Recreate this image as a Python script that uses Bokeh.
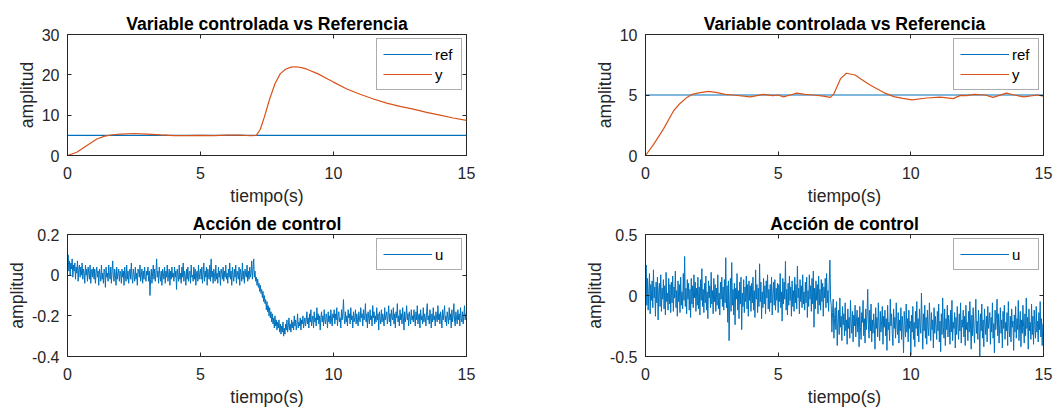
from bokeh.plotting import figure
from bokeh.layouts import column, row
from bokeh.models import Range1d, FixedTicker, LinearAxis
from bokeh.embed import file_html
from bokeh.resources import INLINE

# ---------------- data ----------------
x_ticks = [0, 5, 10, 15]

ref_t = [0, 15]
ref_v = [5, 5]

y1_t = [0, 0.35, 0.73, 1.1, 1.4, 1.7, 2.0, 2.5, 3.0, 3.5, 4.0, 4.5, 5.0, 5.5, 6.0, 6.5, 6.9,
        7.1, 7.25, 7.4, 7.6, 7.8, 8.0, 8.2, 8.4, 8.6, 8.8, 9.0, 9.4, 9.8, 10.0, 10.5, 11.0,
        11.5, 12.0, 12.5, 13.0, 13.5, 14.0, 14.5, 15.0]
y1_v = [0, 0.8, 2.5, 4.1, 4.8, 5.15, 5.3, 5.45, 5.3, 5.1, 4.95, 4.95, 5.0, 4.95, 5.05, 5.05, 4.9,
        5.0, 6.5, 9.5, 14.0, 17.8, 20.3, 21.4, 21.9, 22.0, 21.8, 21.4, 20.3, 18.9, 18.2, 16.5, 15.2,
        14.0, 13.0, 12.2, 11.5, 10.7, 10.0, 9.3, 8.7]

y2_t = [0, 0.3, 0.68, 1.06, 1.3, 1.56, 1.75, 2.06, 2.38, 2.7, 3.0, 3.3, 3.95, 4.45, 4.8, 5.0,
        5.2, 5.45, 5.7, 6.0, 6.34, 6.7, 6.97, 7.1, 7.35, 7.57, 7.9, 8.2, 8.48, 8.98, 9.36, 9.7,
        10.05, 10.6, 11.1, 11.6, 11.87, 12.1, 12.38, 12.8, 13.1, 13.6, 13.9, 14.26, 14.77, 15.0]
y2_v = [0, 0.9, 2.2, 3.7, 4.3, 4.8, 5.05, 5.2, 5.3, 5.2, 5.05, 5.0, 4.85, 5.05, 4.95, 5.0,
        4.85, 5.0, 5.15, 5.05, 5.0, 4.9, 4.8, 5.1, 6.35, 6.8, 6.65, 6.2, 5.8, 5.2, 4.87, 4.72,
        4.6, 4.75, 4.82, 4.7, 4.97, 4.95, 5.05, 5.0, 4.8, 5.15, 5.0, 4.85, 5.0, 4.9]

u_dt = 0.025

u1 = [
    0.05, 0.10, 0.02, 0.07, 0.00, 0.06, 0.03, 0.08, -0.01, 0.05, 0.02, 0.06, -0.02, 0.04, 0.01, 0.07, -0.03, 0.03, 0.05, -0.01,
    0.04, 0.00, 0.06, -0.02, 0.03, 0.01, -0.04, 0.05, 0.00, 0.03, -0.03, 0.04, 0.01, -0.02, 0.05, -0.04, 0.02, 0.03, -0.01, 0.04,
    -0.02, 0.03, -0.04, 0.01, 0.04, -0.01, 0.02, -0.05, 0.03, 0.00, -0.03, 0.05, -0.02, 0.01, -0.04, 0.03, 0.02, -0.06, 0.04, -0.01,
    0.01, -0.03, 0.05, 0.00, -0.02, 0.04, -0.04, 0.02, 0.07, -0.01, -0.03, 0.03, 0.00, -0.05, 0.04, -0.02, 0.01, 0.03, -0.03, 0.02,
    0.01, -0.04, 0.03, -0.01, 0.02, -0.05, 0.04, 0.00, -0.03, 0.05, -0.02, 0.02, -0.04, 0.01, 0.03, -0.02, 0.06, -0.01, -0.04, 0.03,
    0.00, -0.03, 0.04, -0.02, 0.01, -0.05, 0.03, 0.02, -0.01, 0.05, -0.03, 0.00, 0.03, -0.04, 0.02, -0.02, 0.04, -0.01, -0.03, 0.02,
    0.00, 0.04, -0.03, 0.02, -0.10, -0.02, 0.03, -0.04, 0.01, 0.05, -0.02, 0.03, -0.03, 0.01, 0.08, -0.01, 0.02, -0.04, 0.04, 0.00,
    -0.03, 0.02, -0.05, 0.03, 0.01, -0.02, 0.04, -0.04, 0.02, -0.01, 0.05, -0.03, 0.00, 0.03, -0.05, 0.02, -0.02, 0.04, -0.01, 0.01,
    -0.03, 0.04, -0.01, 0.02, -0.07, 0.03, 0.00, -0.03, 0.05, -0.02, 0.01, -0.04, 0.04, -0.01, 0.06, -0.03, 0.02, 0.00, -0.05, 0.03,
    -0.02, 0.04, -0.03, 0.01, 0.02, -0.04, 0.05, -0.01, 0.00, -0.03, 0.04, -0.02, 0.03, -0.05, 0.01, 0.02, -0.03, 0.05, -0.02, 0.01,
    0.03, -0.02, 0.04, -0.04, 0.01, 0.06, -0.03, 0.02, -0.01, 0.04, -0.05, 0.03, 0.00, -0.02, 0.05, -0.03, 0.08, -0.01, 0.02, -0.04,
    0.03, 0.00, -0.03, 0.05, -0.02, 0.01, -0.04, 0.04, -0.01, 0.02, -0.05, 0.03, 0.01, -0.02, 0.04, -0.03, 0.02, -0.01, 0.05, -0.02,
    0.01, -0.04, 0.03, -0.01, 0.06, -0.02, 0.02, -0.05, 0.04, 0.00, -0.03, 0.03, -0.01, 0.05, -0.04, 0.02, 0.00, -0.02, 0.04, -0.05,
    0.03, 0.01, -0.03, 0.06, -0.02, 0.02, -0.04, 0.03, 0.00, -0.01, 0.05, -0.03, 0.02, -0.02, 0.04, -0.01, 0.01, 0.07, -0.02, 0.03,
    0.08, -0.01, 0.02, -0.03, -0.01, -0.05, -0.02, -0.06, -0.04, -0.08, -0.05, -0.09, -0.07, -0.11, -0.08, -0.13, -0.10, -0.14, -0.12, -0.17,
    -0.13, -0.18, -0.15, -0.20, -0.16, -0.21, -0.18, -0.23, -0.19, -0.24, -0.21, -0.26, -0.20, -0.25, -0.22, -0.27, -0.23, -0.26, -0.22, -0.28,
    -0.24, -0.29, -0.25, -0.28, -0.23, -0.30, -0.26, -0.29, -0.24, -0.27, -0.22, -0.28, -0.25, -0.21, -0.27, -0.24, -0.28, -0.22, -0.26, -0.23,
    -0.27, -0.20, -0.25, -0.22, -0.27, -0.24, -0.19, -0.26, -0.23, -0.25, -0.21, -0.27, -0.22, -0.24, -0.20, -0.26, -0.23, -0.21, -0.25, -0.22,
    -0.18, -0.24, -0.21, -0.26, -0.19, -0.23, -0.17, -0.25, -0.22, -0.20, -0.26, -0.18, -0.23, -0.21, -0.25, -0.16, -0.22, -0.19, -0.24, -0.20,
    -0.27, -0.21, -0.18, -0.23, -0.20, -0.25, -0.17, -0.22, -0.24, -0.19, -0.21, -0.26, -0.18, -0.23, -0.20, -0.24, -0.17, -0.22, -0.25, -0.19,
    -0.21, -0.17, -0.24, -0.19, -0.22, -0.16, -0.25, -0.20, -0.18, -0.23, -0.21, -0.26, -0.17, -0.22, -0.19, -0.12, -0.21, -0.24, -0.18, -0.23,
    -0.20, -0.25, -0.17, -0.21, -0.19, -0.24, -0.16, -0.22, -0.20, -0.26, -0.18, -0.23, -0.21, -0.17, -0.24, -0.19, -0.22, -0.25, -0.18, -0.21,
    -0.23, -0.16, -0.21, -0.19, -0.25, -0.17, -0.22, -0.20, -0.14, -0.23, -0.19, -0.26, -0.18, -0.21, -0.24, -0.17, -0.22, -0.20, -0.25, -0.15,
    -0.21, -0.18, -0.24, -0.20, -0.23, -0.16, -0.22, -0.19, -0.27, -0.18, -0.21, -0.24, -0.17, -0.23, -0.19, -0.21, -0.25, -0.16, -0.22, -0.20,
    -0.18, -0.24, -0.20, -0.15, -0.23, -0.19, -0.25, -0.17, -0.21, -0.22, -0.16, -0.24, -0.19, -0.26, -0.18, -0.21, -0.14, -0.23, -0.20, -0.25,
    -0.17, -0.22, -0.19, -0.24, -0.16, -0.21, -0.27, -0.18, -0.23, -0.20, -0.15, -0.22, -0.19, -0.25, -0.18, -0.21, -0.24, -0.17, -0.22, -0.20,
    -0.23, -0.17, -0.21, -0.25, -0.18, -0.22, -0.15, -0.24, -0.20, -0.19, -0.26, -0.17, -0.22, -0.20, -0.24, -0.16, -0.23, -0.19, -0.21, -0.25,
    -0.18, -0.14, -0.22, -0.20, -0.24, -0.17, -0.21, -0.26, -0.19, -0.23, -0.16, -0.22, -0.20, -0.25, -0.18, -0.21, -0.23, -0.15, -0.22, -0.19,
    -0.24, -0.18, -0.21, -0.26, -0.17, -0.22, -0.19, -0.15, -0.23, -0.20, -0.25, -0.18, -0.21, -0.24, -0.16, -0.22, -0.19, -0.26, -0.17, -0.23,
    -0.20, -0.14, -0.22, -0.25, -0.18, -0.21, -0.24, -0.17, -0.22, -0.19, -0.25, -0.16, -0.21, -0.23, -0.18, -0.24, -0.20, -0.15, -0.22, -0.19,
    -0.21,
]

u2 = [
    0.05, 0.25, -0.08, 0.14, -0.12, 0.03, 0.18, -0.15, 0.09, -0.04, 0.12, -0.10, 0.21, -0.02, 0.07, -0.17, 0.11, -0.06, 0.15, -0.20,
    0.04, 0.10, -0.09, 0.17, -0.13, 0.06, -0.03, 0.13, -0.11, 0.08, -0.16, 0.19, -0.05, 0.02, -0.12, 0.14, -0.07, 0.09, -0.14, 0.11,
    -0.06, 0.16, -0.13, 0.07, -0.02, 0.20, -0.10, 0.04, -0.17, 0.12, -0.05, 0.09, -0.14, 0.15, -0.08, 0.03, -0.11, 0.18, -0.04, 0.32,
    -0.09, 0.06, -0.15, 0.13, -0.03, 0.10, -0.12, 0.05, -0.18, 0.14, -0.07, 0.08, -0.10, 0.17, -0.02, 0.11, -0.13, 0.06, -0.08, 0.15,
    -0.11, 0.07, -0.16, 0.13, -0.04, 0.22, -0.09, 0.05, -0.14, 0.10, -0.06, 0.16, -0.12, 0.03, -0.19, 0.12, -0.02, 0.08, -0.10, 0.19,
    -0.07, 0.04, -0.15, 0.14, -0.05, 0.09, -0.13, 0.06, -0.08, 0.17, -0.11, 0.02, -0.16, 0.11, -0.03, 0.15, -0.09, 0.07, -0.12, 0.13,
    -0.06, 0.31, -0.10, 0.08, -0.22, 0.12, -0.37, -0.05, 0.14, -0.13, 0.27, -0.08, 0.05, -0.16, 0.10, -0.24, 0.06, -0.03, 0.18, -0.12,
    0.04, -0.19, 0.11, -0.07, 0.15, -0.28, 0.02, -0.09, 0.13, -0.14, 0.07, -0.05, 0.16, -0.11, 0.09, -0.17, 0.12, -0.04, 0.08, -0.13,
    0.10, -0.06, 0.15, -0.12, 0.04, -0.18, 0.21, -0.03, 0.09, -0.14, 0.06, -0.09, 0.26, -0.05, 0.11, -0.19, 0.03, -0.10, 0.14, -0.07,
    0.08, -0.15, 0.12, -0.02, 0.17, -0.11, 0.05, -0.13, 0.09, -0.06, 0.15, -0.16, 0.02, 0.11, -0.08, 0.13, -0.12, 0.06, -0.04, 0.10,
    -0.14, 0.09, -0.05, 0.18, -0.10, 0.03, -0.21, 0.14, -0.07, 0.11, -0.03, 0.28, -0.12, 0.05, -0.16, 0.10, -0.08, 0.16, -0.04, 0.07,
    -0.17, 0.12, -0.09, 0.04, -0.13, 0.15, -0.06, 0.09, -0.11, 0.24, -0.02, 0.06, -0.15, 0.13, -0.05, 0.08, -0.10, 0.17, -0.07, 0.03,
    -0.12, 0.11, -0.06, 0.15, -0.18, 0.04, -0.09, 0.17, -0.03, 0.08, -0.13, 0.14, -0.07, 0.20, -0.26, 0.06, -0.11, 0.12, -0.04, 0.09,
    -0.15, 0.16, -0.08, 0.05, -0.12, 0.13, -0.05, 0.10, -0.17, 0.07, -0.02, 0.14, -0.10, 0.18, -0.06, 0.04, -0.13, 0.11, 0.29, -0.03,
    -0.08, -0.30, -0.14, -0.03, -0.35, -0.19, -0.10, -0.28, -0.05, -0.41, -0.22, -0.12, -0.32, -0.02, -0.26, -0.17, -0.37, -0.09, -0.24, -0.15,
    -0.33, -0.06, -0.29, -0.20, -0.40, -0.11, -0.27, -0.18, -0.35, -0.04, -0.23, -0.31, -0.13, -0.38, -0.16, -0.25, -0.08, -0.34, -0.21, -0.12,
    -0.30, -0.18, -0.42, -0.09, -0.26, -0.36, -0.14, -0.22, -0.04, -0.33, -0.19, -0.39, -0.11, -0.28, -0.16, 0.05, -0.24, -0.35, -0.12, -0.29,
    -0.07, -0.38, -0.20, -0.31, -0.15, -0.25, -0.44, -0.10, -0.27, -0.18, -0.34, -0.06, -0.23, -0.37, -0.13, -0.30, -0.21, -0.09, -0.40, -0.17,
    -0.26, -0.12, -0.33, -0.19, -0.45, -0.08, -0.28, -0.22, -0.37, -0.03, -0.25, -0.15, -0.31, -0.41, -0.11, -0.27, -0.18, -0.35, -0.06, -0.24,
    -0.32, -0.14, -0.39, -0.20, -0.29, -0.10, -0.36, -0.17, -0.26, -0.47, -0.13, -0.23, -0.34, -0.07, -0.30, -0.19, -0.38, -0.12, -0.27, -0.21,
    -0.49, -0.16, -0.30, -0.09, -0.36, -0.22, -0.42, -0.13, -0.27, -0.05, -0.33, -0.19, -0.38, -0.11, -0.25, -0.31, 0.02, -0.21, -0.44, -0.15,
    -0.29, -0.08, -0.35, -0.18, -0.40, -0.12, -0.26, -0.33, -0.06, -0.23, -0.37, -0.14, -0.28, -0.20, -0.43, -0.10, -0.31, -0.17, -0.25, -0.36,
    -0.13, -0.29, -0.07, -0.38, -0.21, -0.46, -0.15, -0.32, -0.02, -0.26, -0.35, -0.11, -0.41, -0.19, -0.28, -0.08, -0.34, -0.16, -0.24, -0.40,
    -0.12, -0.30, -0.04, -0.37, -0.22, -0.27, -0.14, -0.43, -0.18, -0.32, -0.09, -0.25, -0.36, -0.15, -0.29, -0.06, -0.39, -0.20, -0.26, -0.12,
    -0.34, -0.17, -0.41, -0.08, -0.28, -0.22, -0.37, -0.13, -0.30, -0.05, -0.25, -0.44, -0.16, -0.33, -0.10, -0.27, -0.39, -0.19, -0.03, -0.31,
    -0.21, -0.36, -0.12, -0.26, -0.50, -0.15, -0.29, -0.07, -0.35, -0.20, -0.42, -0.11, -0.24, -0.32, -0.17, -0.38, -0.09, -0.27, -0.22, -0.14,
    -0.40, -0.18, -0.30, -0.06, -0.35, -0.23, -0.47, -0.12, -0.28, -0.19, -0.03, -0.33, -0.15, -0.39, -0.24, -0.10, -0.31, -0.20, -0.43, -0.13,
    -0.27, -0.08, -0.36, -0.22, -0.29, -0.14, -0.41, -0.05, -0.25, -0.34, -0.17, -0.38, -0.11, -0.26, -0.21, -0.45, -0.16, -0.30, -0.09, -0.35,
    -0.19, -0.28, -0.04, -0.37, -0.23, -0.13, -0.42, -0.20, -0.31, -0.08, -0.26, -0.39, -0.15, -0.33, -0.02, -0.27, -0.18, -0.44, -0.11, -0.29,
    -0.22, -0.36, -0.07, -0.32, -0.17, -0.40, -0.12, -0.25, -0.35, -0.09, -0.30, -0.21, -0.38, -0.14, -0.28, -0.05, -0.34, -0.19, -0.41, -0.24,
    -0.22,
]

u1_t = [i * u_dt for i in range(len(u1))]
u2_t = [i * u_dt for i in range(len(u2))]

y1_ticks = [0, 10, 20, 30]
y2_ticks = [0, 5, 10]
u1_ticks = [-0.4, -0.2, 0, 0.2]
u1_tick_labels = ["-0.4", "-0.2", "0", "0.2"]
u2_ticks = [-0.5, 0, 0.5]
u2_tick_labels = ["-0.5", "0", "0.5"]

title_top = "Variable controlada vs Referencia"
title_bottom = "Acción de control"

# ---------------- styling ----------------
AX = "#262626"
FONT = "Liberation Sans"
BLUE = "#0072BD"
ORANGE = "#D95319"


def style_axis(ax, ticker, labels=None):
    ax.ticker = FixedTicker(ticks=ticker)
    ax.axis_line_color = AX
    ax.major_tick_line_color = AX
    ax.minor_tick_line_color = None
    ax.major_tick_in = 4
    ax.major_tick_out = 0
    ax.major_label_text_font = FONT
    ax.major_label_text_font_size = "16px"
    ax.major_label_text_color = AX
    ax.axis_label_text_font = FONT
    ax.axis_label_text_font_size = "17.6px"
    ax.axis_label_text_font_style = "normal"
    ax.axis_label_text_color = AX
    if labels is not None:
        ax.major_label_overrides = {float(t): s for t, s in zip(ticker, labels)}


def make(width, height, bl, br, bt, bb, ylo, yhi, yticks, ylabels, title):
    p = figure(width=width, height=height, output_backend="svg", toolbar_location=None,
               x_range=Range1d(0, 15), y_range=Range1d(ylo, yhi),
               min_border_left=bl, min_border_right=br, min_border_top=bt, min_border_bottom=bb,
               x_axis_label="tiempo(s)", y_axis_label="amplitud")
    p.grid.visible = False
    p.outline_line_color = AX
    p.outline_line_alpha = 1
    p.outline_line_width = 1
    p.background_fill_color = "white"
    p.border_fill_color = "white"
    style_axis(p.xaxis[0], x_ticks)
    style_axis(p.yaxis[0], yticks, ylabels)
    p.xaxis[0].major_label_standoff = 11
    p.xaxis[0].axis_label_standoff = 4
    p.yaxis[0].major_label_standoff = 8
    p.yaxis[0].axis_label_standoff = 2

    top = LinearAxis()
    style_axis(top, x_ticks, [""] * len(x_ticks))
    top.major_label_text_font_size = "0px"
    top.major_label_standoff = 0
    top.axis_line_color = None
    p.add_layout(top, "above")
    right = LinearAxis()
    style_axis(right, yticks, [""] * len(yticks))
    right.major_label_text_font_size = "0px"
    right.major_label_standoff = 0
    right.axis_line_color = None
    p.add_layout(right, "right")

    p.title.text = title
    p.title.align = "center"
    p.title.text_font = FONT
    p.title.text_font_size = "17.6px"
    p.title.text_font_style = "bold"
    p.title.text_color = "black"
    p.title.standoff = 1
    return p


def style_legend(p):
    lg = p.legend[0]
    lg.location = "top_right"
    lg.label_text_font = FONT
    lg.label_text_font_size = "15px"
    lg.label_text_color = "black"
    lg.glyph_width = 49
    lg.glyph_height = 18
    lg.label_height = 18
    lg.label_standoff = 3
    lg.spacing = 2
    lg.padding = 6
    lg.margin = 4
    lg.border_line_color = "#5a5a5a"
    lg.border_line_width = 1.5
    lg.background_fill_color = "white"
    lg.background_fill_alpha = 1


# ---------------- figures ----------------
p1 = make(540, 208, 67, 74, 34, 53, 0, 30, y1_ticks, None, title_top)
p1.line(ref_t, ref_v, line_color=BLUE, line_width=1.2, legend_label="ref")
p1.line(y1_t, y1_v, line_color=ORANGE, line_width=1.2, legend_label="y")
style_legend(p1)

p2 = make(515, 208, 105, 12, 34, 53, 0, 10, y2_ticks, None, title_top)
p2.line(ref_t, ref_v, line_color=BLUE, line_width=1.2, legend_label="ref")
p2.line(y2_t, y2_v, line_color=ORANGE, line_width=1.2, legend_label="y")
style_legend(p2)

p3 = make(540, 201, 67, 74, 26, 53, -0.4, 0.2, u1_ticks, u1_tick_labels, title_bottom)
p3.line(u1_t, u1, line_color=BLUE, line_width=1, legend_label="u")
style_legend(p3)

p4 = make(515, 201, 105, 12, 26, 53, -0.5, 0.5, u2_ticks, u2_tick_labels, title_bottom)
p4.line(u2_t, u2, line_color=BLUE, line_width=1, legend_label="u")
style_legend(p4)

layout = column(row(p1, p2), row(p3, p4))

open("out.html", "w").write(file_html(layout, INLINE))
